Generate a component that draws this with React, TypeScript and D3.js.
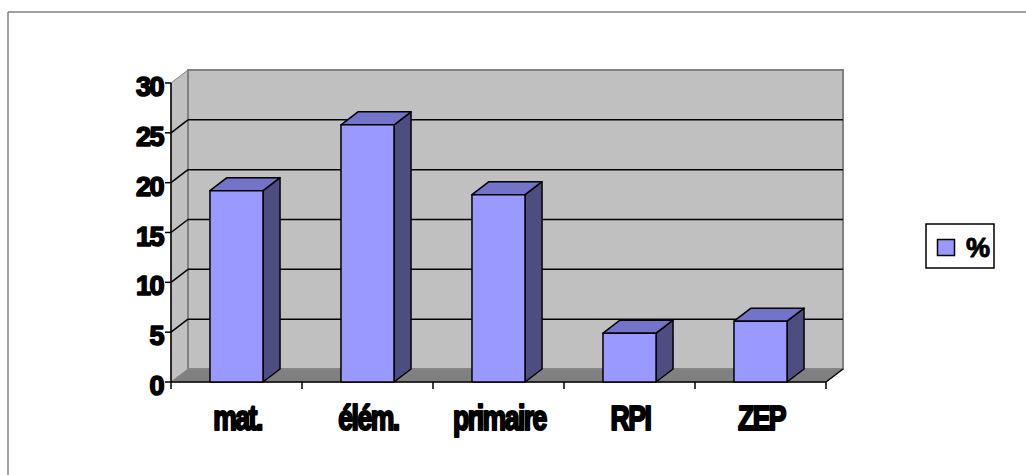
import React from "react";
import * as d3 from "d3";

const categories = ["mat.", "élém.", "primaire", "RPI", "ZEP"];
const values = [19.2, 25.8, 18.8, 4.9, 6.1];
const yTicks = [0, 5, 10, 15, 20, 25, 30];
const legendLabel = "%";

const W = 1026, H = 475;
const DX = 17, DY = -13;
const font = "'Liberation Sans', Arial, sans-serif";

export default function App() {
  const x = d3.scaleBand<string>().domain(categories).range([171, 826])
    .paddingInner(0.595).paddingOuter(0.2975);
  const y = d3.scaleLinear().domain([0, 30]).range([382, 83]);
  const step = x.step();
  const x0 = 171, x1 = 826;
  const yb = y(0), yt = y(30);

  // Excel renders its labels very heavy, so give the text a thin outline
  const heavy = { stroke: "#000", strokeWidth: 1.6, strokeLinejoin: "round" as const };

  return (
    <svg width={W} height={H} style={{ position: "absolute", left: 0, top: 0 }}>
      <rect width={W} height={H} fill="#fff" />
      {/* outer frame */}
      <line x1={8} y1={12} x2={W} y2={12} stroke="#808080" strokeWidth={1.5} />
      <line x1={8} y1={12} x2={8} y2={H} stroke="#808080" strokeWidth={1.5} />

      {/* walls and floor */}
      <polygon points={`${x0},${yb} ${x0},${yt} ${x0 + DX},${yt + DY} ${x0 + DX},${yb + DY}`}
        fill="#c0c0c0" stroke="#808080" strokeWidth={1} />
      <rect x={x0 + DX} y={yt + DY} width={x1 - x0} height={yb - yt}
        fill="#c0c0c0" stroke="#808080" strokeWidth={2} />
      <polygon points={`${x0},${yb} ${x1},${yb} ${x1 + DX},${yb + DY} ${x0 + DX},${yb + DY}`}
        fill="#808080" stroke="#8c8c8c" strokeWidth={1} />

      {/* gridlines */}
      {yTicks.filter(t => t > 0 && t < 30).map(t => (
        <g key={t}>
          <line x1={x0 + DX} x2={x1 + DX} y1={y(t) + DY} y2={y(t) + DY} stroke="#000" strokeWidth={1.5} />
          <line x1={x0} x2={x0 + DX} y1={y(t)} y2={y(t) + DY} stroke="#000" strokeWidth={1.5} />
        </g>
      ))}

      {/* axes */}
      <line x1={x0} x2={x0} y1={yt} y2={yb} stroke="#000" strokeWidth={1.5} />
      <line x1={x0} x2={x1} y1={yb} y2={yb} stroke="#000" strokeWidth={1.5} />
      <line x1={x1} x2={x1 + DX} y1={yb} y2={yb + DY} stroke="#000" strokeWidth={1.5} />
      {yTicks.map(t => (
        <g key={t}>
          <line x1={x0 - 6} x2={x0} y1={y(t)} y2={y(t)} stroke="#000" strokeWidth={1.5} />
          <text x={163} y={y(t) + 13} textAnchor="end" fontFamily={font} fontWeight="bold"
            fontSize={27} letterSpacing={-1.5} fill="#000" {...heavy}>{t}</text>
        </g>
      ))}
      {d3.range(categories.length + 1).map(i => (
        <line key={i} x1={x0 + i * step} x2={x0 + i * step} y1={yb} y2={yb + 7} stroke="#000" strokeWidth={1.5} />
      ))}

      {/* bars */}
      {categories.map((c, i) => {
        const bx = x(c)!, w = x.bandwidth(), top = y(values[i]);
        return (
          <g key={c} stroke="#000" strokeWidth={1.5} strokeLinejoin="round">
            <polygon points={`${bx + w},${top} ${bx + w + DX},${top + DY} ${bx + w + DX},${yb + DY} ${bx + w},${yb}`}
              fill="#4d4d80" />
            <polygon points={`${bx},${top} ${bx + DX},${top + DY} ${bx + w + DX},${top + DY} ${bx + w},${top}`}
              fill="#7373c9" />
            <rect x={bx} y={top} width={w} height={yb - top} fill="#9999ff" />
          </g>
        );
      })}

      {/* category labels */}
      {categories.map(c => {
        const cx = x(c)! + x.bandwidth() / 2 + 1;
        return (
          <text key={c} transform={`translate(${cx},430) scale(0.76,1)`} textAnchor="middle"
            fontFamily={font} fontWeight="bold" fontSize={35} letterSpacing={-2} fill="#000"
            {...heavy} strokeWidth={2.2}>{c}</text>
        );
      })}

      {/* legend */}
      <rect x={926} y={224} width={68} height={44} fill="#fff" stroke="#000" strokeWidth={1.5} />
      <rect x={937.5} y={239.5} width={17} height={16} fill="#9999ff" stroke="#000" strokeWidth={1.5} />
      <text x={966} y={257} fontFamily={font} fontWeight="bold" fontSize={27} letterSpacing={-1}
        fill="#000" {...heavy} strokeWidth={1}>{legendLabel}</text>
    </svg>
  );
}
